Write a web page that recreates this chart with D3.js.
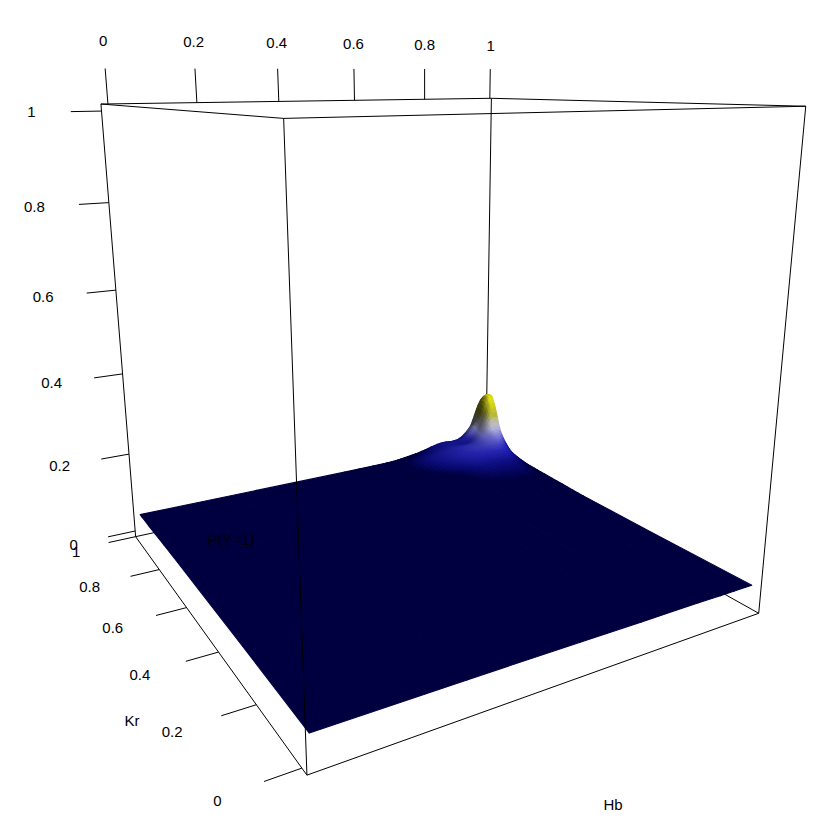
<!DOCTYPE html>
<html><head><meta charset="utf-8">
<style>html,body{margin:0;padding:0;background:#fff}svg{display:block}text{font-family:"Liberation Sans",Arial,sans-serif;font-size:15px;fill:#000}</style>
<script src="https://cdn.jsdelivr.net/npm/d3@7/dist/d3.min.js"></script>
</head><body><svg id="c" width="832" height="826"></svg>
<script>
// ---- data ----
const hbGrid = [0, 0.3, 0.55, 0.7, 0.78, 0.85, 0.91, 0.95, 0.98, 1];
const krGrid = [0, 0.3, 0.55, 0.7, 0.8, 0.87, 0.92, 0.96, 0.98, 1];
const pRow000 = [.045,.045,.044,.043,.043,.043,.042,.042,.042,.042];
const pRow030 = [.045,.044,.043,.043,.043,.042,.041,.04,.04,.04];
const pRow055 = [.044,.043,.042,.042,.042,.041,.04,.04,.04,.04];
const pRow070 = [.043,.042,.041,.043,.046,.05,.052,.052,.048,.043];
const pRow080 = [.042,.041,.04,.045,.052,.062,.064,.064,.058,.046];
const pRow087 = [.041,.04,.04,.05,.063,.075,.08,.083,.078,.058];
const pRow092 = [.04,.04,.04,.052,.066,.076,.08,.092,.108,.1];
const pRow096 = [.04,.04,.04,.05,.06,.07,.07,.1,.172,.182];
const pRow098 = [.04,.04,.04,.046,.057,.068,.072,.108,.184,.192];
const pRow100 = [.04,.04,.04,.042,.052,.067,.068,.1,.167,.182];
const pRows = [pRow000,pRow030,pRow055,pRow070,pRow080,pRow087,pRow092,pRow096,pRow098,pRow100];
const tickValues = [0, 0.2, 0.4, 0.6, 0.8, 1];
const xTitle = "Hb", yTitle = "Kr", zTitle = "P(Y=1)";

// ---- view: perspective camera calibrated on the visible box corners ----
const cubeCorners = [[0,0,0],[1,0,0],[0,1,0],[0,0,1],[1,0,1],[0,1,1],[1,1,1]];
const screenCorners = [[306,775],[759,613],[136,537],[284,118],[806,107],[101,104],[491,98]];
function solveCamera(){
  const A=[],b=[];
  cubeCorners.forEach((c,i)=>{const [X,Y,Z]=c,[u,v]=screenCorners[i];
    A.push([X,Y,Z,1,0,0,0,0,-u*X,-u*Y,-u*Z]);b.push(u);
    A.push([0,0,0,0,X,Y,Z,1,-v*X,-v*Y,-v*Z]);b.push(v);});
  const n=11,M=d3.range(n).map(i=>d3.range(n+1).map(j=>{
    let s=0;A.forEach((r,k)=>{s+=r[i]*(j<n?r[j]:b[k]);});return s;}));
  for(let i=0;i<n;i++){let p=i;for(let r=i+1;r<n;r++)if(Math.abs(M[r][i])>Math.abs(M[p][i]))p=r;
    [M[i],M[p]]=[M[p],M[i]];
    for(let r=0;r<n;r++){if(r===i)continue;const f=M[r][i]/M[i][i];for(let c=i;c<=n;c++)M[r][c]-=f*M[i][c];}}
  return d3.range(n).map(i=>M[i][n]/M[i][i]);
}
const P = solveCamera();
const sx = d3.scaleLinear().domain([-0.015,1.005]).range([0,1]);
const sy = d3.scaleLinear().domain([-0.02,1]).range([0,1]);
const sz = d3.scaleLinear().domain([-0.015,1.015]).range([0,1]);
function projU(u,v,w){const d=P[8]*u+P[9]*v+P[10]*w+1;
  return [(P[0]*u+P[1]*v+P[2]*w+P[3])/d,(P[4]*u+P[5]*v+P[6]*w+P[7])/d];}
const proj=(x,y,z)=>projU(sx(x),sy(y),sz(z));

const svg=d3.select("#c"), line=d3.line();
const ink=svg.append("g").attr("fill","none").attr("stroke","#000").attr("stroke-width",1);
const seg=(g,a,b)=>g.append("path").attr("d",line([a,b]));

// back edges of the box
const backEdges=[[[0,1,0],[1,1,0]],[[1,0,0],[1,1,0]],[[1,1,0],[1,1,1]]];
backEdges.forEach(e=>seg(ink,projU(...e[0]),projU(...e[1])));

// ---- surface ----
const nx=hbGrid.length,ny=krGrid.length;
function cr(p0,p1,p2,p3,t){return 0.5*((2*p1)+(-p0+p2)*t+(2*p0-5*p1+4*p2-p3)*t*t+(-p0+3*p1-3*p2+p3)*t*t*t);}
const cl=(i,n)=>Math.max(0,Math.min(n-1,i));
function zAt(fi,fj){ // fi: hb index, fj: kr index (fractional), smoothed between grid nodes
  const i=cl(Math.floor(fi),nx-1),j=cl(Math.floor(fj),ny-1),t=fi-i,s=fj-j,col=[];
  for(let m=-1;m<=2;m++){const r=pRows[cl(j+m,ny)];
    col.push(cr(r[cl(i-1,nx)],r[cl(i,nx)],r[cl(i+1,nx)],r[cl(i+2,nx)],t));}
  return Math.max(0.04,cr(col[0],col[1],col[2],col[3],s));
}
const lerpIdx=(g,f)=>{const i=cl(Math.floor(f),g.length-1),j=cl(i+1,g.length);return g[i]+(g[j]-g[i])*(f-i);};
const ramp=d3.scaleLinear()
  .domain([.052,.062,.077,.09,.108,.125,.145,.18])
  .range(["#000040","#0c0c78","#2424a8","#6060c0","#a0a0c8","#b0b0a8","#a8a830","#c8c818"])
  .interpolate(d3.interpolateRgb).clamp(true);
const L=[0.4,-0.6,0.7];
function shade(fi,fj){
  const e=0.5/6;
  const dx=lerpIdx(hbGrid,Math.min(nx-1,fi+e))-lerpIdx(hbGrid,Math.max(0,fi-e));
  const dy=lerpIdx(krGrid,Math.min(ny-1,fj+e))-lerpIdx(krGrid,Math.max(0,fj-e));
  const zx=(zAt(Math.min(nx-1,fi+e),fj)-zAt(Math.max(0,fi-e),fj))/dx;
  const zy=(zAt(fi,Math.min(ny-1,fj+e))-zAt(fi,Math.max(0,fj-e)))/dy;
  const k=0.35,nn=Math.hypot(k*zx,k*zy,1);
  const dot=(-k*zx*L[0]-k*zy*L[1]+L[2])/nn;
  return Math.max(0.35,Math.min(1.1,dot/L[2]));
}
const surf=svg.append("g");
const quads=[];
for(let i=nx-2;i>=0;i--)for(let j=ny-2;j>=0;j--){
  const n=(i<2||j<2)?1:7;
  for(let a=n-1;a>=0;a--)for(let b=n-1;b>=0;b--){
    const fi=[i+a/n,i+(a+1)/n],fj=[j+b/n,j+(b+1)/n];
    const pt=(p,q)=>proj(lerpIdx(hbGrid,p),lerpIdx(krGrid,q),zAt(p,q));
    const mi=(fi[0]+fi[1])/2,mj=(fj[0]+fj[1])/2,z=zAt(mi,mj);
    const c=d3.rgb(ramp(z)),s=z<0.052?1:shade(mi,mj);
    const col=d3.rgb(Math.min(255,c.r*s),Math.min(255,c.g*s),Math.min(255,c.b*s)).formatHex();
    quads.push({d:line([pt(fi[0],fj[0]),pt(fi[1],fj[0]),pt(fi[1],fj[1]),pt(fi[0],fj[1])])+"Z",col});
  }
}
surf.selectAll("path").data(quads).join("path").attr("d",d=>d.d).attr("fill",d=>d.col)
  .attr("stroke",d=>d.col).attr("stroke-width",1.1).attr("stroke-linejoin","round");

// front and top edges
const frontEdges=[[[0,0,0],[1,0,0]],[[0,0,0],[0,1,0]],[[0,0,0],[0,0,1]],[[1,0,0],[1,0,1]],[[0,1,0],[0,1,1]],
 [[0,0,1],[1,0,1]],[[0,0,1],[0,1,1]],[[0,1,1],[1,1,1]],[[1,0,1],[1,1,1]]];
const front=svg.append("g").attr("fill","none").attr("stroke","#000").attr("stroke-width",1);
frontEdges.forEach(e=>seg(front,projU(...e[0]),projU(...e[1])));

// ---- axes ----
const xMin=sx.domain()[0],yMax=sy.domain()[1],zMax=sz.domain()[1],zMin=sz.domain()[0];
const dSide=0.065,dUp=0.075;
const lab=svg.append("g").attr("text-anchor","middle");
const label=(p,t,ox,oy,anchor)=>lab.append("text").attr("x",p[0]+ox).attr("y",p[1]+oy).attr("dy","0.36em").attr("text-anchor",anchor).text(t);
const fmt=d3.format("~g");
tickValues.forEach(t=>{ // Hb along the top back edge
  seg(front,proj(t,yMax,zMax),proj(t,yMax,zMax+dUp));
  label(proj(t,yMax,zMax+dUp*1.7),fmt(t),0,-3,"middle");
});
tickValues.forEach(t=>{ // P(Y=1) on the left vertical edge
  seg(front,proj(xMin,yMax,t),proj(xMin-dSide,yMax,t));
  label(proj(xMin-dSide*2.3,yMax,t),fmt(t),6,-0.5,"end");
});
tickValues.forEach(t=>{ // Kr along the left bottom edge
  seg(front,proj(xMin,t,zMin),proj(xMin-dSide,t,zMin));
  label(proj(xMin-dSide*2.2,t,zMin),fmt(t),5,2,"end");
});
lab.append("text").attr("x",613).attr("y",805).attr("dy","0.36em").text(xTitle);
lab.append("text").attr("x",132).attr("y",721).attr("dy","0.36em").text(yTitle);
lab.append("text").attr("x",231).attr("y",540).attr("dy","0.36em").text(zTitle);
</script></body></html>
